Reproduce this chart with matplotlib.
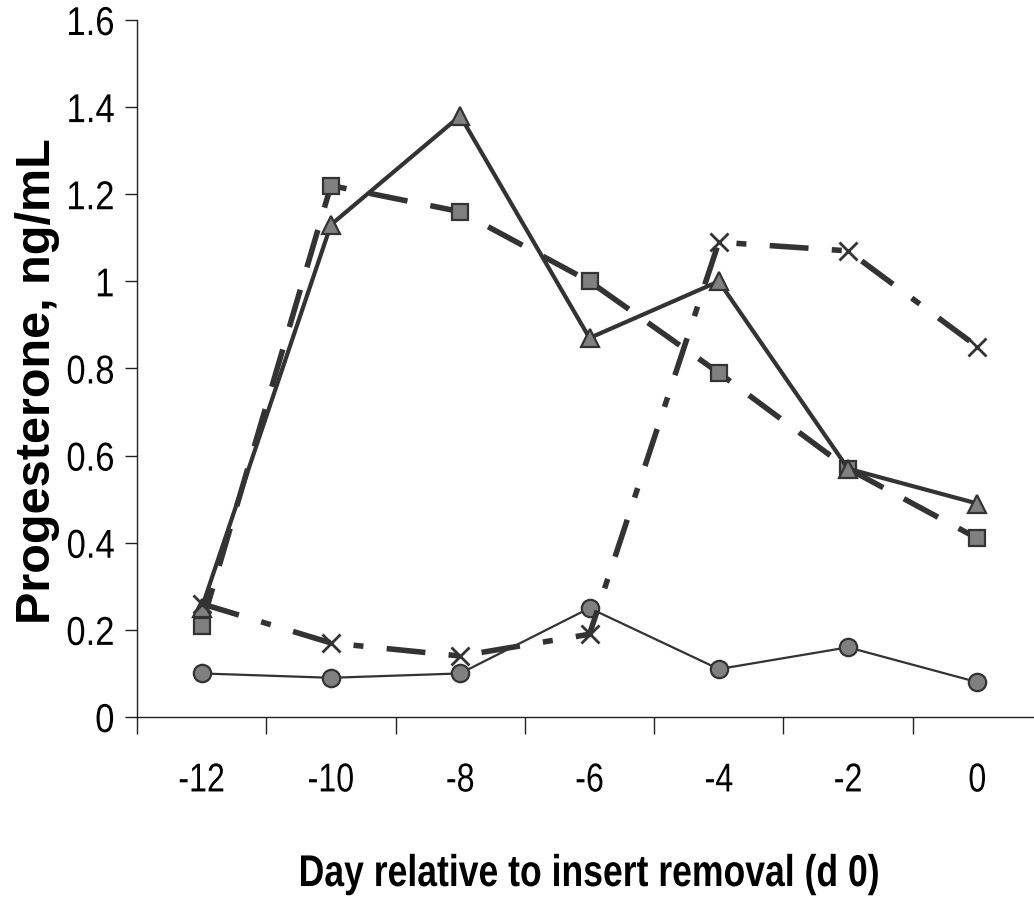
import numpy as np
import matplotlib
matplotlib.use("Agg")
import matplotlib.pyplot as plt
import matplotlib.patheffects as pe
from matplotlib.transforms import Affine2D

# данные
days = ["-12", "-10", "-8", "-6", "-4", "-2", "0"]
circle_vals = [0.10, 0.09, 0.10, 0.25, 0.11, 0.16, 0.08]
triangle_vals = [0.25, 1.13, 1.38, 0.87, 1.00, 0.57, 0.49]
square_vals = [0.21, 1.22, 1.16, 1.00, 0.79, 0.57, 0.41]
cross_vals = [0.26, 0.17, 0.14, 0.19, 1.09, 1.07, 0.85]
y_ticks = [0, 0.2, 0.4, 0.6, 0.8, 1.0, 1.2, 1.4, 1.6]
y_tick_labels = ["0", "0.2", "0.4", "0.6", "0.8", "1", "1.2", "1.4", "1.6"]

plt.rcParams['font.family'] = ['Liberation Sans', 'DejaVu Sans']


# сжатие текста по ширине (в оригинале узкий шрифт)
class Squeeze(pe.AbstractPathEffect):
    def __init__(self, sx=1.0, sy=1.0, anchor='center'):
        super().__init__()
        self.sx = sx
        self.sy = sy
        self.anchor = anchor

    def draw_path(self, renderer, gc, tpath, affine, rgbFace=None):
        ext = tpath.get_extents(affine)
        cx = ext.x1 if self.anchor == 'right' else (ext.x0 + ext.x1) / 2
        cy = (ext.y0 + ext.y1) / 2
        t = affine + Affine2D().translate(-cx, -cy).scale(self.sx, self.sy).translate(cx, cy)
        renderer.draw_path(gc, tpath, t, rgbFace)


W, H = 1034, 901
fig = plt.figure(figsize=(W / 100, H / 100), dpi=100)
ax = fig.add_axes([137 / W, 1 - 717 / H, 905 / W, 697 / H])

x = np.arange(len(days))
dark = '#333333'
fill = '#808080'

ax.plot(x, circle_vals, color=dark, lw=1.6, marker='o', ms=12.5,
        mfc=fill, mec=dark, mew=1.6, zorder=2)
ax.plot(x, square_vals, color=dark, lw=4, linestyle=(0, (7, 4.2)),
        marker='s', ms=11.5, mfc=fill, mec=dark, mew=1.6, zorder=3)
ax.plot(x, triangle_vals, color=dark, lw=3, marker='^', ms=13,
        mfc=fill, mec=dark, mew=1.6, zorder=4)
ax.plot(x, cross_vals, color=dark, lw=4, linestyle=(0, (7, 4.2, 1.8, 4.2)),
        marker='x', ms=13, mec=dark, mew=2, zorder=5)

ax.set_xlim(-0.5, len(days) - 0.5)
ax.set_ylim(0, 1.6)

# подписи дней по центрам категорий, засечки между категориями
ax.set_xticks(x, days)
ax.set_xticks(np.arange(len(days) + 1) - 0.5, minor=True)
ax.tick_params(axis='x', which='major', length=0, pad=32, labelsize=29)
ax.tick_params(axis='x', which='minor', length=12, width=1, color='#222222',
               direction='out')
ax.set_yticks(y_ticks, y_tick_labels)
ax.tick_params(axis='y', length=9, width=1, color='#222222', direction='out',
               pad=7, labelsize=29)

for s in ['top', 'right']:
    ax.spines[s].set_visible(False)
for s in ['left', 'bottom']:
    ax.spines[s].set_color('#222222')
    ax.spines[s].set_linewidth(1)

for lab in ax.get_xticklabels():
    lab.set_path_effects([Squeeze(sx=0.8)])
for lab in ax.get_yticklabels():
    lab.set_path_effects([Squeeze(sx=0.86, anchor='right')])

ax.set_ylabel('Progesterone, ng/mL', fontsize=35, fontweight='bold')
ax.yaxis.label.set_va('baseline')
ax.yaxis.set_label_coords(-0.096, 0.482)

ax.set_xlabel('Day relative to insert removal (d 0)', fontsize=32,
              fontweight='bold')
ax.xaxis.label.set_va('baseline')
ax.xaxis.set_label_coords(0.5, -0.2425)
ax.xaxis.label.set_path_effects([Squeeze(sx=0.8)])

fig.savefig('out.png', dpi=100)
